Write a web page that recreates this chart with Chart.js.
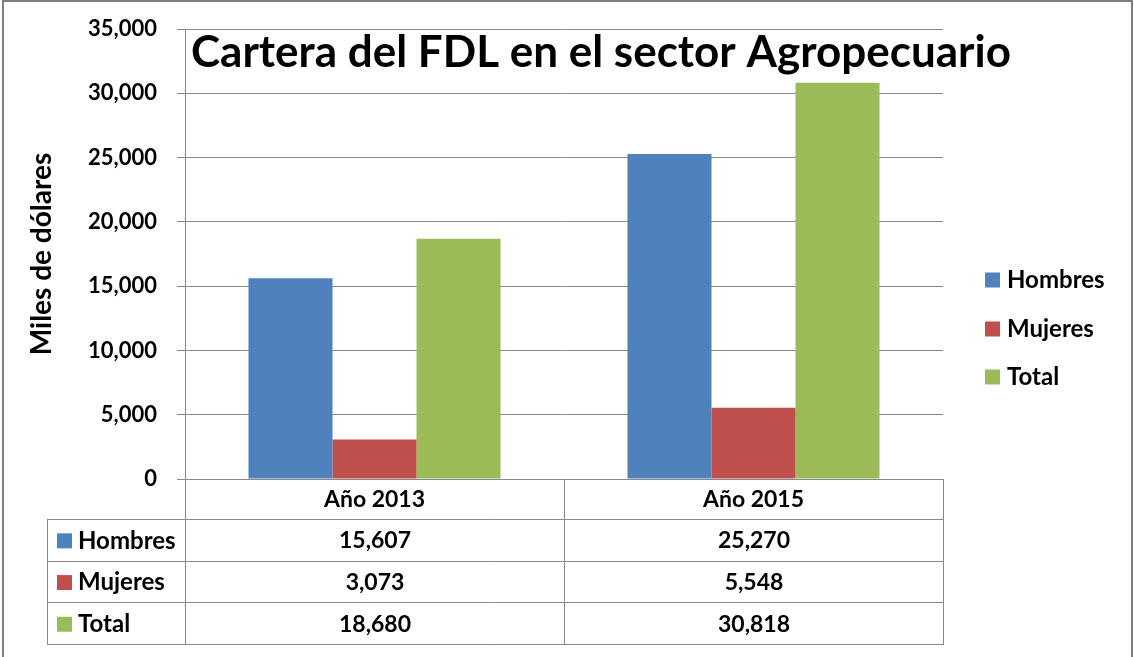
<!DOCTYPE html>
<html><head><meta charset="utf-8">
<script src="https://cdn.jsdelivr.net/npm/chart.js@4"></script>
<style>html,body{margin:0;padding:0;background:#fff}#wrap{width:1134px;height:657px;position:relative}</style>
</head><body><div id="wrap"><canvas id="c" width="1134" height="657"></canvas></div>
<script>
const categories = ['Año 2013', 'Año 2015'];
const seriesNames = ['Hombres', 'Mujeres', 'Total'];
const hombres = [15607, 25270];
const mujeres = [3073, 5548];
const total = [18680, 30818];
const yTickValues = [0, 5000, 10000, 15000, 20000, 25000, 30000, 35000];
const seriesColors = ['#4F81BD', '#C0504D', '#9BBB59'];
const chartTitle = 'Cartera del FDL en el sector Agropecuario';
const yTitle = 'Miles de dólares';

const FONT = 'Lato, "Open Sans", sans-serif';
const fmt = v => v.toLocaleString('en-US');
const LINE = '#898989';

const tablePlugin = {
  id: 'tableAndExtras',
  afterDraw(chart) {
    const ctx = chart.ctx;
    const ca = chart.chartArea;
    const xs = chart.scales.x;
    const W = chart.width;
    ctx.save();
    // title
    ctx.fillStyle = '#000';
    ctx.font = 'bold 44px ' + FONT;
    ctx.textAlign = 'left';
    ctx.textBaseline = 'alphabetic';
    ctx.fillText(chartTitle, ca.left + 6, 67);

    // table
    const tableLeft = 47;
    const headerBottom = xs.bottom;
    const rowH = 41.7;
    const nRows = chart.data.datasets.length;
    const tableBottom = headerBottom + rowH * nRows;
    const n = chart.data.labels.length;
    const colW = (ca.right - ca.left) / n;
    const bounds = [];
    for (let i = 0; i <= n; i++) bounds.push(Math.round(ca.left + colW * i) + 0.5);

    ctx.strokeStyle = LINE;
    ctx.lineWidth = 1;
    ctx.beginPath();
    for (let r = 0; r <= nRows; r++) {
      const y = Math.round(headerBottom + rowH * r) + 0.5;
      ctx.moveTo(tableLeft, y); ctx.lineTo(bounds[n], y);
    }
    ctx.moveTo(tableLeft + 0.5, Math.round(headerBottom)); ctx.lineTo(tableLeft + 0.5, Math.round(tableBottom) + 1);
    ctx.moveTo(bounds[0], ca.bottom); ctx.lineTo(bounds[0], Math.round(tableBottom) + 1);
    for (let i = 1; i <= n; i++) {
      ctx.moveTo(bounds[i], ca.bottom); ctx.lineTo(bounds[i], Math.round(tableBottom) + 1);
    }
    ctx.stroke();

    ctx.textBaseline = 'middle';
    chart.data.datasets.forEach((ds, r) => {
      const cy = headerBottom + rowH * r + rowH / 2 + 1;
      ctx.fillStyle = ds.backgroundColor;
      ctx.fillRect(57, cy - 7.5, 15, 15);
      ctx.fillStyle = '#000';
      ctx.textAlign = 'left';
      ctx.font = 'bold 24px ' + FONT;
      ctx.fillText(ds.label, 78, cy);
      ctx.textAlign = 'center';
      ctx.font = 'bold 23px ' + FONT;
      ds.data.forEach((v, i) => {
        ctx.fillText(fmt(v), (bounds[i] + bounds[i + 1]) / 2, cy);
      });
    });

    // legend on right
    const legendY = [280, 329, 377];
    ctx.font = 'bold 24px ' + FONT;
    chart.data.datasets.forEach((ds, r) => {
      const cy = legendY[r];
      ctx.fillStyle = ds.backgroundColor;
      ctx.fillRect(985, cy - 7.5, 15, 15);
      ctx.fillStyle = '#000';
      ctx.textAlign = 'left';
      ctx.fillText(ds.label, 1007, cy);
    });

    // outer border
    ctx.strokeStyle = '#7f7f7f';
    ctx.lineWidth = 2;
    ctx.beginPath();
    ctx.moveTo(3, 660); ctx.lineTo(3, 1); ctx.lineTo(W - 2, 1); ctx.lineTo(W - 2, 660);
    ctx.stroke();
    ctx.restore();
  }
};

new Chart(document.getElementById('c'), {
  type: 'bar',
  data: {
    labels: categories,
    datasets: [
      { label: seriesNames[0], data: hombres, backgroundColor: seriesColors[0] },
      { label: seriesNames[1], data: mujeres, backgroundColor: seriesColors[1] },
      { label: seriesNames[2], data: total, backgroundColor: seriesColors[2] }
    ]
  },
  options: {
    responsive: false,
    animation: false,
    devicePixelRatio: 1,
    layout: { padding: { left: 0, top: 29, right: 191, bottom: 138 } },
    datasets: { bar: { categoryPercentage: 0.665, barPercentage: 1, borderWidth: 0 } },
    plugins: { legend: { display: false }, tooltip: { enabled: false }, title: { display: false } },
    scales: {
      x: {
        grid: { display: false, drawTicks: false },
        border: { display: false },
        ticks: { color: '#000', font: { family: FONT, size: 23, weight: 'bold' }, padding: 7, maxRotation: 0 },
        afterFit: s => { s.height = 40; }
      },
      y: {
        min: 0, max: 35000,
        afterBuildTicks: s => { s.ticks = yTickValues.map(v => ({ value: v })); },
        grid: { color: LINE, tickLength: 8 },
        border: { color: LINE },
        ticks: { color: '#000', font: { family: FONT, size: 22, weight: 'bold' }, padding: 20, callback: v => fmt(v) },
        title: { display: true, text: yTitle, color: '#000', font: { family: FONT, size: 28, weight: 'bold' }, padding: { top: 25, bottom: 0 } },
        afterFit: s => { s.width = 185; s.paddingTop = 14; s.paddingBottom = 14; }
      }
    }
  },
  plugins: [tablePlugin]
});
</script>
</body></html>
